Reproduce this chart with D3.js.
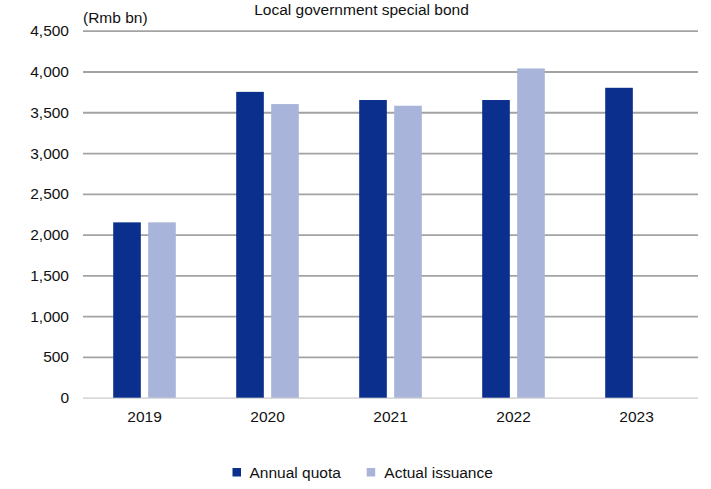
<!DOCTYPE html>
<html>
<head>
<meta charset="utf-8">
<script src="https://cdn.jsdelivr.net/npm/d3@7"></script>
<style>
  html, body { margin: 0; padding: 0; background: #fff; }
  svg { display: block; font-family: "Liberation Sans", Arial, sans-serif; }
</style>
</head>
<body>
<svg id="chart" width="711" height="489"></svg>
<script>
// Local government special bond: annual quota vs actual issuance (Rmb bn)
const years = ["2019", "2020", "2021", "2022", "2023"];
const annualQuota = [2150, 3750, 3650, 3650, 3800];
const actualIssuance = [2150, 3600, 3580, 4037, null];
const yTicks = [0, 500, 1000, 1500, 2000, 2500, 3000, 3500, 4000, 4500];
const seriesNames = ["Annual quota", "Actual issuance"];
const seriesColors = ["#0a2f8c", "#a8b4d9"];

const svg = d3.select("#chart");
const margin = { left: 83, right: 13, top: 30.7, bottom: 91.3 };
const W = 711, H = 489;
const innerW = W - margin.left - margin.right;
const innerH = H - margin.top - margin.bottom;
const fs = 15.5;

const x = d3.scaleBand().domain(years).range([0, innerW]).paddingInner(0).paddingOuter(0);
const xSub = d3.scaleBand().domain(seriesNames).range([x.bandwidth() / 2 - 31.3, x.bandwidth() / 2 + 31.3]).paddingInner(0.21);
const y = d3.scaleLinear().domain([0, 4500]).range([innerH, 0]);

const g = svg.append("g").attr("transform", `translate(${margin.left},${margin.top})`);

// horizontal gridlines
const yAxis = d3.axisLeft(y).tickValues(yTicks).tickSize(-innerW).tickPadding(14)
  .tickFormat(d3.format(","));
const yG = g.append("g").call(yAxis);
yG.select(".domain").remove();
yG.selectAll(".tick line")
  .attr("stroke", d => d === 0 ? "#d9d9d9" : "#a3a3a3")
  .attr("stroke-width", 1.8);
yG.selectAll(".tick text")
  .attr("font-size", fs).attr("fill", "#111")
  .attr("font-family", "Liberation Sans, Arial, sans-serif");

// bars
const rows = years.map((yr, i) => ({ year: yr, values: [annualQuota[i], actualIssuance[i]] }));
const groups = g.selectAll(".grp").data(rows).join("g")
  .attr("transform", d => `translate(${x(d.year)},0)`);
groups.selectAll("rect")
  .data(d => d.values.map((v, j) => ({ name: seriesNames[j], v, j })).filter(e => e.v != null))
  .join("rect")
  .attr("x", e => xSub(e.name))
  .attr("width", xSub.bandwidth())
  .attr("y", e => y(e.v))
  .attr("height", e => innerH - y(e.v))
  .attr("fill", e => seriesColors[e.j]);

// x axis labels
const xAxis = d3.axisBottom(x).tickSize(0).tickPadding(13);
const xG = g.append("g").attr("transform", `translate(0,${innerH})`).call(xAxis);
xG.select(".domain").remove();
xG.selectAll(".tick text")
  .attr("font-size", fs).attr("fill", "#111")
  .attr("font-family", "Liberation Sans, Arial, sans-serif");

// title and unit
svg.append("text").attr("x", 361.5).attr("y", 15).attr("text-anchor", "middle")
  .attr("font-size", 15.5).attr("fill", "#111").text("Local government special bond");
svg.append("text").attr("x", 83).attr("y", 22.5).attr("font-size", fs)
  .attr("fill", "#111").text("(Rmb bn)");

// legend
const legendItems = [{ x: 232.5, tx: 249.5 }, { x: 366.7, tx: 384.3 }];
const lg = svg.append("g");
seriesNames.forEach((name, i) => {
  lg.append("rect").attr("x", legendItems[i].x).attr("y", 468).attr("width", 8.5).attr("height", 8.5)
    .attr("fill", seriesColors[i]);
  lg.append("text").attr("x", legendItems[i].tx).attr("y", 477.5).attr("font-size", fs)
    .attr("fill", "#111").text(name);
});
</script>
</body>
</html>
